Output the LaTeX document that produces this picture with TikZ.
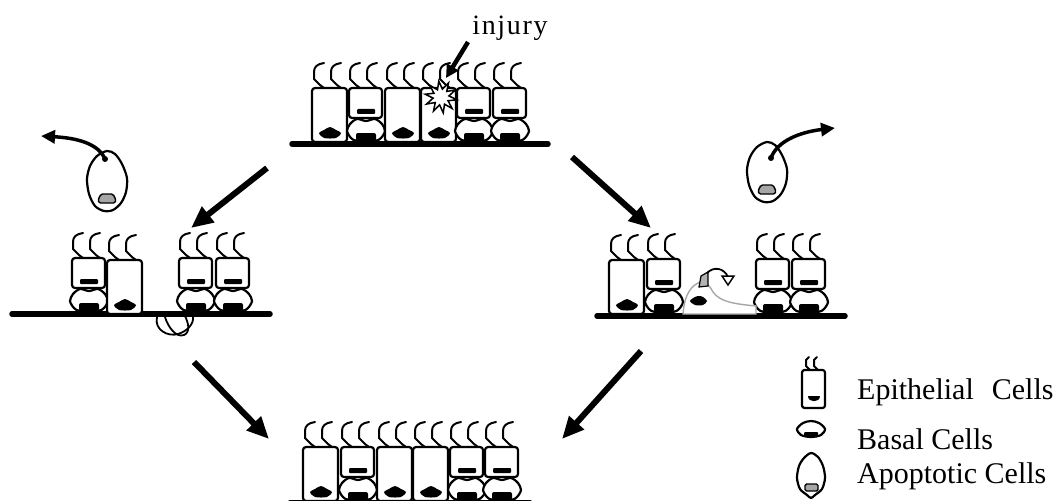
\documentclass[tikz,border=0pt]{standalone}
\usepackage{fontspec}
\setmainfont{Liberation Serif}
\usetikzlibrary{arrows.meta,shapes.geometric}

\tikzset{
  cellline/.style={line width=2.2pt, line join=round},
  cil/.style={line width=2pt, line join=round, line cap=round},
  membrane/.style={line width=5.5pt, line cap=round},
  bigarrow/.style={line width=6pt, -{Triangle[length=22pt,width=19pt]}},
  smallarrow/.style={line width=3.5pt, -{Triangle[length=14pt,width=13pt]}},
  nucgrey/.style={draw, fill=gray!70, line width=1.4pt, rounded corners=1.5pt},
  legendtext/.style={font=\fontsize{30}{33}\selectfont, anchor=base west, inner sep=0pt},
}

% one cilium standing on the cell top at local x = #1
\newcommand\ciliumAt[1]{%
  \draw[cil] (#1,0) -- (#1-4,-3) -- (#1-10,-9) -- (#1-10,-16)
    .. controls (#1-10,-21) and (#1-7,-24) .. (#1,-25);}

% tall columnar epithelial cell, top-left corner at (#1,#2)
\newcommand\tallCell[2]{%
  \begin{scope}[shift={(#1,#2)}]
    \draw[cellline,fill=white,rounded corners=3pt] (0,0) rectangle (35,54);
    \fill plot[smooth cycle] coordinates {(7,45) (12,42) (18,39) (24,42) (29,45) (24,50) (12,50)};
    \ciliumAt{12}\ciliumAt{29}
  \end{scope}}

% short epithelial cell resting on a basal cell, top-left corner at (#1,#2)
\newcommand\shortCell[2]{%
  \begin{scope}[shift={(#1,#2)}]
    \draw[cellline,fill=white] plot[smooth cycle] coordinates
      {(-2,43) (1,36) (8,31) (17,33) (26,31) (33,36) (36,43) (32,50) (26,53) (8,53) (2,50)};
    \fill[rounded corners=2pt] (7,45) rectangle (27,53);
    \draw[cellline,fill=white,rounded corners=3pt] (0,0) rectangle (33,30);
    \fill[rounded corners=1pt] (8,21) rectangle (26,26);
    \ciliumAt{11}\ciliumAt{28}
  \end{scope}}

% shed apoptotic cell centred at (#1,#2)
\newcommand\apopCell[2]{%
  \begin{scope}[shift={(#1,#2)}]
    \draw[cellline,fill=white] plot[smooth cycle] coordinates
      {(0,-30) (8,-27) (15,-17) (20,-3) (19,11) (14,22) (6,29) (-3,30) (-12,25) (-18,13) (-20,-2) (-17,-15) (-10,-25)};
    \draw[nucgrey] (-9,19) -- (-6,13) -- (6,13) -- (9,19) -- (8,22) -- (-8,22) -- cycle;
  \end{scope}}

\begin{document}
\begin{tikzpicture}[x=1pt,y=-1pt]
\clip (0,0) rectangle (1056,500);

% ---------- intact epithelium with injury ----------
\draw[membrane] (292,144) -- (548,144);
\tallCell{312}{88}
\shortCell{349}{88}
\tallCell{385}{88}
\tallCell{421}{88}
\shortCell{457}{88}
\shortCell{493}{88}
\node[star, star points=10, star point ratio=2.0, draw, fill=white, line width=1.5pt,
      minimum size=32pt, inner sep=0pt, rotate=8] (burst) at (441,97) {};
\node[font=\fontsize{28}{30}\selectfont\addfontfeatures{LetterSpace=6}, inner sep=0pt] (injlbl) at (510,28) {injury};
\coordinate (injtail) at (468,42);
\coordinate (injtip) at (446,78);
\draw[line width=4.5pt, -{Triangle[length=13pt,width=13pt]}] (injtail) -- (injtip);

% ---------- left: cell shed, basal cell squeezes below ----------
\draw[membrane] (12,314) -- (270,314);
\shortCell{72}{258}
\tallCell{107}{260}
\shortCell{179}{258}
\shortCell{216}{258}
\draw[line width=1.8pt] (157,317) .. controls (154,330) and (168,337) .. (178,334)
  .. controls (188,331) and (194,323) .. (193,317);
\draw[line width=1.8pt] (165,317) .. controls (168,327) and (176,338) .. (184,335)
  .. controls (191,332) and (188,322) .. (185,316);
\apopCell{107}{181}
\coordinate (apLstart) at (105,159);
\coordinate (apLend) at (41,136);
\fill (apLstart) circle (3pt);
\draw[smallarrow] (apLstart) .. controls (98,143) and (76,138) .. (apLend);

% ---------- right: cell shed, neighbour migrates ----------
\draw[membrane] (597,316) -- (845,316);
\tallCell{609}{260}
\shortCell{647}{259}
\shortCell{756}{259}
\shortCell{792}{259}
% migrating cell
\draw[gray!70, line width=1.4pt, fill=white] (683,314) .. controls (684,300) and (688,288) .. (698,283)
  .. controls (706,281) and (710,286) .. (713,292) .. controls (720,302) and (735,304) .. (756,306)
  -- (756,314) -- cycle;
\fill plot[smooth cycle] coordinates {(690,301) (695,297) (699,296) (703,297) (707,301) (703,305) (695,305)};
\draw[line width=1.2pt, fill=gray!60] (699,287) -- (701,276) -- (708,272) -- (708,286) -- cycle;
\draw[line width=1.8pt] (707,273) .. controls (714,266) and (724,268) .. (728,277);
\draw[line width=1.5pt, fill=white] (722,276) -- (734,276) -- (728,285) -- cycle;
\apopCell{767}{172}
\coordinate (apRstart) at (771,158);
\coordinate (apRend) at (835,128);
\fill (apRstart) circle (3pt);
\draw[smallarrow] (apRstart) .. controls (777,141) and (800,132) .. (apRend);

% ---------- repaired epithelium ----------
\draw[membrane] (290,503) -- (530,503);
\tallCell{303}{447}
\shortCell{341}{447}
\tallCell{377}{447}
\tallCell{413}{447}
\shortCell{450}{447}
\shortCell{485}{447}

% ---------- arrows between stages ----------
\coordinate (topL) at (267,168);  \coordinate (midL) at (191,228);
\coordinate (topR) at (572,157);  \coordinate (midR) at (651,228);
\coordinate (lowL) at (194,362);  \coordinate (botL) at (269,439);
\coordinate (lowR) at (641,351);  \coordinate (botR) at (562,439);
\draw[bigarrow] (topL) -- (midL);
\draw[bigarrow] (topR) -- (midR);
\draw[bigarrow] (lowL) -- (botL);
\draw[bigarrow] (lowR) -- (botR);

% ---------- legend ----------
\draw[cellline,fill=white,rounded corners=2.5pt] (802,370) rectangle (825,408);
\fill (808,396) -- (820,396) .. controls (820,403) and (808,403) .. cycle;
\draw[cil] (810,370) -- (806,366) -- (806,360) -- (809,357);
\draw[cil] (818,370) -- (814,366) -- (814,360) -- (817,357);
\draw[cellline,fill=white] plot[smooth cycle] coordinates {(797,429) (803,423) (811,421) (819,423) (825,429) (821,435) (811,437) (801,435)};
\fill[rounded corners=1pt] (804,432) rectangle (818,437);
\draw[cellline,fill=white] plot[smooth cycle] coordinates
  {(811,453) (818,457) (823,466) (825,478) (822,489) (815,495) (811,498) (807,495) (800,489) (797,478) (799,466) (804,458)};
\draw[nucgrey] (805,484) rectangle (818,491);
\node[legendtext] (lgEpi) at (857,399) {Epithelial\hspace{0.6em}Cells};
\node[legendtext] (lgBas) at (857,449) {Basal Cells};
\node[legendtext] (lgApo) at (857,483) {Apoptotic Cells};
\end{tikzpicture}
\end{document}
